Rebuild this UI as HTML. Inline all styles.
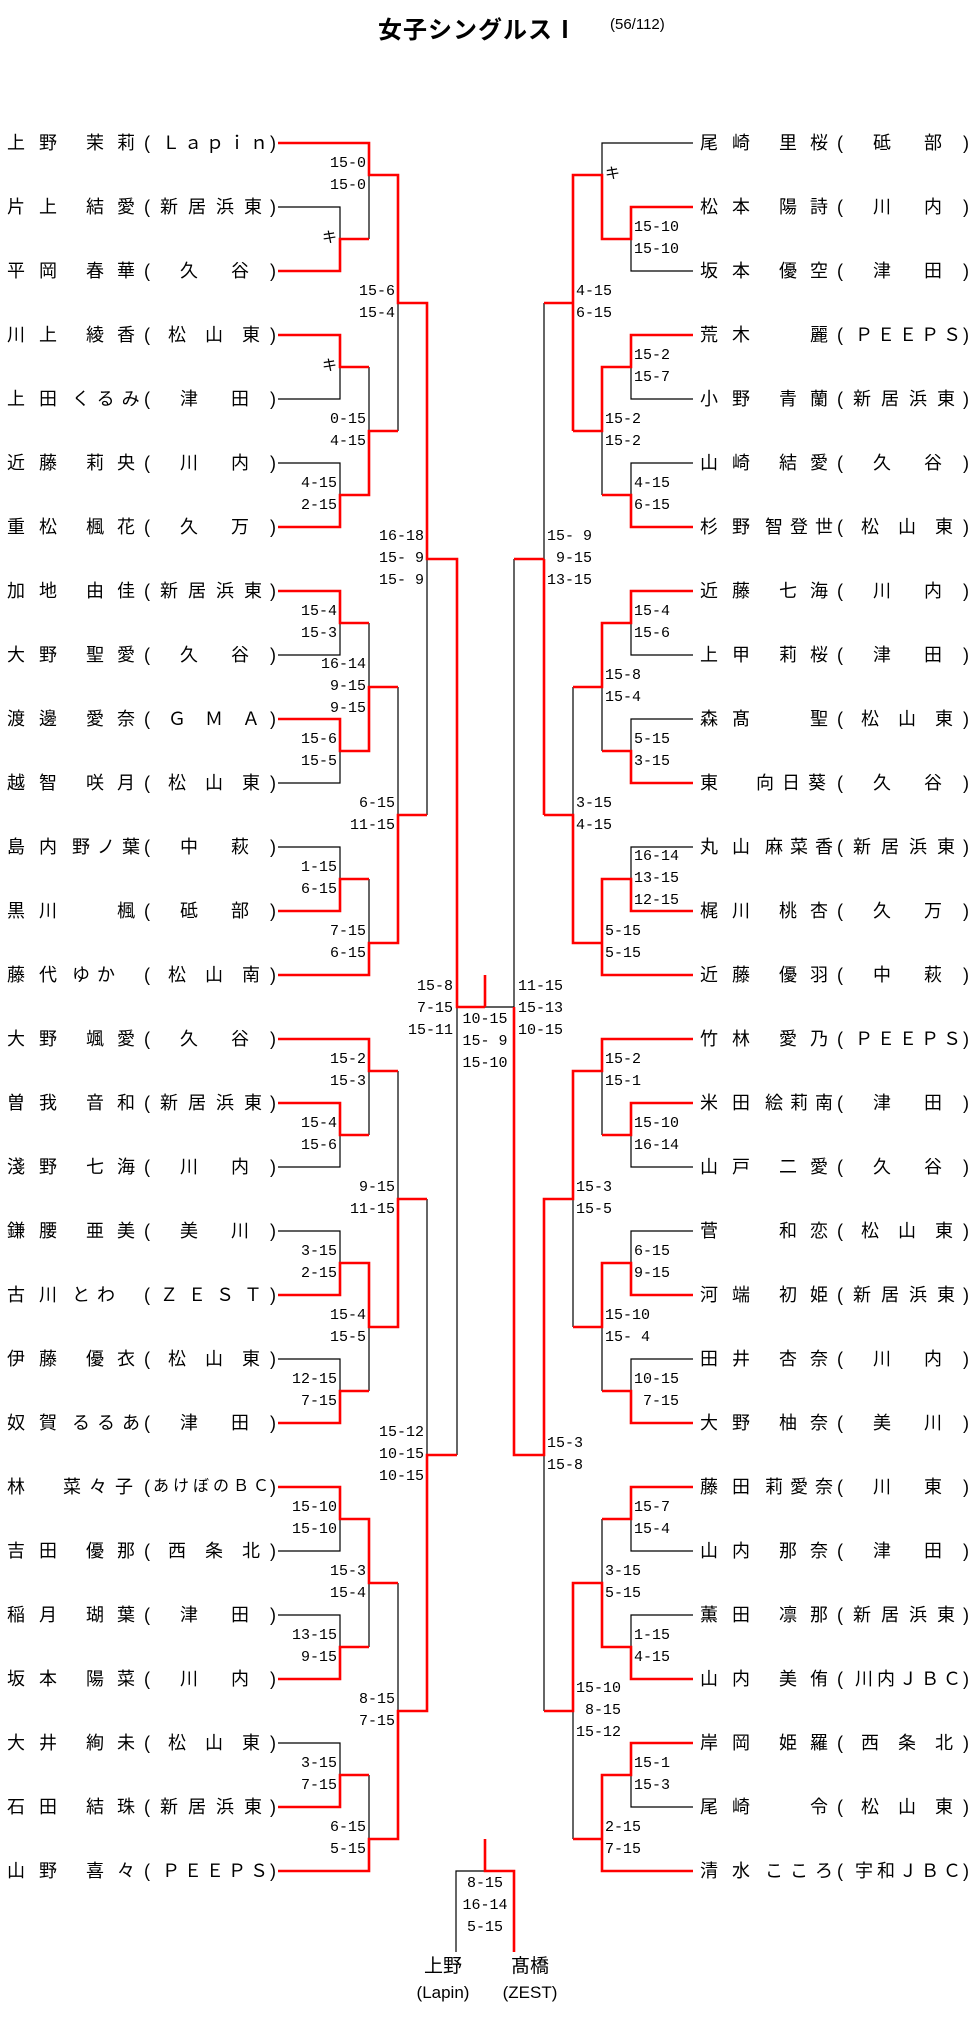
<!DOCTYPE html>
<html><head><meta charset="utf-8">
<style>
body{margin:0;background:#fff;}
#w{position:relative;width:971px;height:2024px;overflow:hidden;background:#fff;font-family:"Liberation Sans","Noto Sans CJK JP",sans-serif;color:#000;}
svg{position:absolute;left:0;top:0;}
.r{position:absolute;height:26px;line-height:26px;font-size:18px;width:280px;}
.r i{position:absolute;font-style:normal;white-space:nowrap;top:0;}
.f{left:0;letter-spacing:14px}
.g{left:79px;letter-spacing:13px}
.g3{left:65px;letter-spacing:7px}
.g1{left:110px}
.gb{left:56px;letter-spacing:8px}
.p{left:137px}
.q{left:263px}
.t2{left:173px;letter-spacing:33px}
.t3{left:161px;letter-spacing:19px}
.t4{left:153px;letter-spacing:10px}
.t5{left:155px;letter-spacing:4px}
.t6{left:146px;font-size:16px;letter-spacing:4px}
.s{position:absolute;font-family:"Liberation Mono","Noto Sans CJK JP",monospace;font-size:15px;line-height:22px;white-space:pre;}
.sl{width:80px;text-align:right;}
.sc{width:80px;text-align:center;}
</style></head><body><div id="w">
<div style="position:absolute;left:378px;top:10px;font-size:24px;font-weight:bold;letter-spacing:1px;font-family:'Noto Sans CJK JP',sans-serif;">女子シングルスⅠ</div>
<div style="position:absolute;left:610px;top:16px;font-size:15px;">(56/112)</div>

<svg width="971" height="2024" viewBox="0 0 971 2024">
<g fill="none" stroke="#000" stroke-width="1.2">
<path d="M278 207H340V239 M340 367V399H278 M278 463H340V495 M340 623V655H278 M340 751V783H278 M278 847H340V879 M340 1135V1167H278 M278 1231H340V1263 M278 1359H340V1391 M340 1519V1551H278 M278 1615H340V1647 M278 1743H340V1775
M369 175V239 M369 367V431 M369 623V687 M369 879V943 M369 1071V1135 M369 1327V1391 M369 1583V1647 M369 1775V1839
M398 303V431 M398 687V815 M398 1071V1199 M398 1583V1711 M427 559V815 M427 1199V1455 M457 1007V1455 M485 1007H514"/>
<path d="M693 143H602V175 M631 239V271H693 M631 367V399H693 M693 463H631V495 M631 623V655H693 M693 719H631V751 M693 847H631V879 M631 1135V1167H693 M693 1231H631V1263 M693 1359H631V1391 M631 1519V1551H693 M693 1615H631V1647 M631 1775V1807H693
M602 431V495 M602 687V751 M602 1071V1135 M602 1327V1391 M602 1519V1583
M573 687V815 M573 1199V1327 M573 1711V1839 M544 303V559 M544 1455V1711 M514 559V1007
M456 1952V1871H485"/>
</g>
<g fill="none" stroke="#f00" stroke-width="2.6">
<path d="M278 143H369V175H398V303H427V559H457V1007H485 M485 975V1007
M278 271H340V239H369 M278 335H340V367H369 M278 527H340V495H369V431H398 M278 591H340V623H369
M278 719H340V751H369V687H398 M278 911H340V879H369 M278 975H369V943H398V815H427
M278 1039H369V1071H398 M278 1103H340V1135H369 M278 1295H340V1263H369V1327H398V1199H427
M278 1423H340V1391H369 M278 1487H340V1519H369V1583H398 M278 1679H340V1647H369 M278 1807H340V1775H369
M278 1871H369V1839H398V1711H427V1455H457"/>
<path d="M693 1039H602V1071H573V1199H544V1455H514V1007
M693 207H631V239H602V175H573V431 M573 303H544 M544 559V815 M544 559H514
M693 335H631V367H602V431H573 M693 527H631V495H602 M693 591H631V623H602V687H573 M693 783H631V751H602
M693 911H631V879H602V975H693 M602 943H573V815H544
M693 1103H631V1135H602 M693 1295H631V1263H602V1327H573 M693 1423H631V1391H602
M693 1487H631V1519H602 M693 1679H631V1647H602V1583H573V1711H544
M693 1743H631V1775H602V1871H693 M602 1839H573
M485 1839V1871H514V1952"/>
</g>
</svg>

<!-- Left names -->
<div class="r" style="left:7px;top:130px"><i class="f">上野</i><i class="g">茉莉</i><i class="p">(</i><i class="t5">Ｌａｐｉｎ</i><i class="q">)</i></div>
<div class="r" style="left:7px;top:194px"><i class="f">片上</i><i class="g">結愛</i><i class="p">(</i><i class="t4">新居浜東</i><i class="q">)</i></div>
<div class="r" style="left:7px;top:258px"><i class="f">平岡</i><i class="g">春華</i><i class="p">(</i><i class="t2">久谷</i><i class="q">)</i></div>
<div class="r" style="left:7px;top:322px"><i class="f">川上</i><i class="g">綾香</i><i class="p">(</i><i class="t3">松山東</i><i class="q">)</i></div>
<div class="r" style="left:7px;top:386px"><i class="f">上田</i><i class="g3">くるみ</i><i class="p">(</i><i class="t2">津田</i><i class="q">)</i></div>
<div class="r" style="left:7px;top:450px"><i class="f">近藤</i><i class="g">莉央</i><i class="p">(</i><i class="t2">川内</i><i class="q">)</i></div>
<div class="r" style="left:7px;top:514px"><i class="f">重松</i><i class="g">楓花</i><i class="p">(</i><i class="t2">久万</i><i class="q">)</i></div>
<div class="r" style="left:7px;top:578px"><i class="f">加地</i><i class="g">由佳</i><i class="p">(</i><i class="t4">新居浜東</i><i class="q">)</i></div>
<div class="r" style="left:7px;top:642px"><i class="f">大野</i><i class="g">聖愛</i><i class="p">(</i><i class="t2">久谷</i><i class="q">)</i></div>
<div class="r" style="left:7px;top:706px"><i class="f">渡邊</i><i class="g">愛奈</i><i class="p">(</i><i class="t3">ＧＭＡ</i><i class="q">)</i></div>
<div class="r" style="left:7px;top:770px"><i class="f">越智</i><i class="g">咲月</i><i class="p">(</i><i class="t3">松山東</i><i class="q">)</i></div>
<div class="r" style="left:7px;top:834px"><i class="f">島内</i><i class="g3">野ノ葉</i><i class="p">(</i><i class="t2">中萩</i><i class="q">)</i></div>
<div class="r" style="left:7px;top:898px"><i class="f">黒川</i><i class="g1">楓</i><i class="p">(</i><i class="t2">砥部</i><i class="q">)</i></div>
<div class="r" style="left:7px;top:962px"><i class="f">藤代</i><i class="g3">ゆか</i><i class="p">(</i><i class="t3">松山南</i><i class="q">)</i></div>
<div class="r" style="left:7px;top:1026px"><i class="f">大野</i><i class="g">颯愛</i><i class="p">(</i><i class="t2">久谷</i><i class="q">)</i></div>
<div class="r" style="left:7px;top:1090px"><i class="f">曽我</i><i class="g">音和</i><i class="p">(</i><i class="t4">新居浜東</i><i class="q">)</i></div>
<div class="r" style="left:7px;top:1154px"><i class="f">淺野</i><i class="g">七海</i><i class="p">(</i><i class="t2">川内</i><i class="q">)</i></div>
<div class="r" style="left:7px;top:1218px"><i class="f">鎌腰</i><i class="g">亜美</i><i class="p">(</i><i class="t2">美川</i><i class="q">)</i></div>
<div class="r" style="left:7px;top:1282px"><i class="f">古川</i><i class="g3">とわ</i><i class="p">(</i><i class="t4">ＺＥＳＴ</i><i class="q">)</i></div>
<div class="r" style="left:7px;top:1346px"><i class="f">伊藤</i><i class="g">優衣</i><i class="p">(</i><i class="t3">松山東</i><i class="q">)</i></div>
<div class="r" style="left:7px;top:1410px"><i class="f">奴賀</i><i class="g3">るるあ</i><i class="p">(</i><i class="t2">津田</i><i class="q">)</i></div>
<div class="r" style="left:7px;top:1474px"><i class="f">林</i><i class="gb">菜々子</i><i class="p">(</i><i class="t6">あけぼのＢＣ</i><i class="q">)</i></div>
<div class="r" style="left:7px;top:1538px"><i class="f">吉田</i><i class="g">優那</i><i class="p">(</i><i class="t3">西条北</i><i class="q">)</i></div>
<div class="r" style="left:7px;top:1602px"><i class="f">稲月</i><i class="g">瑚葉</i><i class="p">(</i><i class="t2">津田</i><i class="q">)</i></div>
<div class="r" style="left:7px;top:1666px"><i class="f">坂本</i><i class="g">陽菜</i><i class="p">(</i><i class="t2">川内</i><i class="q">)</i></div>
<div class="r" style="left:7px;top:1730px"><i class="f">大井</i><i class="g">絢未</i><i class="p">(</i><i class="t3">松山東</i><i class="q">)</i></div>
<div class="r" style="left:7px;top:1794px"><i class="f">石田</i><i class="g">結珠</i><i class="p">(</i><i class="t4">新居浜東</i><i class="q">)</i></div>
<div class="r" style="left:7px;top:1858px"><i class="f">山野</i><i class="g">喜々</i><i class="p">(</i><i class="t5">ＰＥＥＰＳ</i><i class="q">)</i></div>

<!-- Right names -->
<div class="r" style="left:700px;top:130px"><i class="f">尾崎</i><i class="g">里桜</i><i class="p">(</i><i class="t2">砥部</i><i class="q">)</i></div>
<div class="r" style="left:700px;top:194px"><i class="f">松本</i><i class="g">陽詩</i><i class="p">(</i><i class="t2">川内</i><i class="q">)</i></div>
<div class="r" style="left:700px;top:258px"><i class="f">坂本</i><i class="g">優空</i><i class="p">(</i><i class="t2">津田</i><i class="q">)</i></div>
<div class="r" style="left:700px;top:322px"><i class="f">荒木</i><i class="g1">麗</i><i class="p">(</i><i class="t5">ＰＥＥＰＳ</i><i class="q">)</i></div>
<div class="r" style="left:700px;top:386px"><i class="f">小野</i><i class="g">青蘭</i><i class="p">(</i><i class="t4">新居浜東</i><i class="q">)</i></div>
<div class="r" style="left:700px;top:450px"><i class="f">山崎</i><i class="g">結愛</i><i class="p">(</i><i class="t2">久谷</i><i class="q">)</i></div>
<div class="r" style="left:700px;top:514px"><i class="f">杉野</i><i class="g3">智登世</i><i class="p">(</i><i class="t3">松山東</i><i class="q">)</i></div>
<div class="r" style="left:700px;top:578px"><i class="f">近藤</i><i class="g">七海</i><i class="p">(</i><i class="t2">川内</i><i class="q">)</i></div>
<div class="r" style="left:700px;top:642px"><i class="f">上甲</i><i class="g">莉桜</i><i class="p">(</i><i class="t2">津田</i><i class="q">)</i></div>
<div class="r" style="left:700px;top:706px"><i class="f">森髙</i><i class="g1">聖</i><i class="p">(</i><i class="t3">松山東</i><i class="q">)</i></div>
<div class="r" style="left:700px;top:770px"><i class="f">東</i><i class="gb">向日葵</i><i class="p">(</i><i class="t2">久谷</i><i class="q">)</i></div>
<div class="r" style="left:700px;top:834px"><i class="f">丸山</i><i class="g3">麻菜香</i><i class="p">(</i><i class="t4">新居浜東</i><i class="q">)</i></div>
<div class="r" style="left:700px;top:898px"><i class="f">梶川</i><i class="g">桃杏</i><i class="p">(</i><i class="t2">久万</i><i class="q">)</i></div>
<div class="r" style="left:700px;top:962px"><i class="f">近藤</i><i class="g">優羽</i><i class="p">(</i><i class="t2">中萩</i><i class="q">)</i></div>
<div class="r" style="left:700px;top:1026px"><i class="f">竹林</i><i class="g">愛乃</i><i class="p">(</i><i class="t5">ＰＥＥＰＳ</i><i class="q">)</i></div>
<div class="r" style="left:700px;top:1090px"><i class="f">米田</i><i class="g3">絵莉南</i><i class="p">(</i><i class="t2">津田</i><i class="q">)</i></div>
<div class="r" style="left:700px;top:1154px"><i class="f">山戸</i><i class="g">二愛</i><i class="p">(</i><i class="t2">久谷</i><i class="q">)</i></div>
<div class="r" style="left:700px;top:1218px"><i class="f">菅</i><i class="g">和恋</i><i class="p">(</i><i class="t3">松山東</i><i class="q">)</i></div>
<div class="r" style="left:700px;top:1282px"><i class="f">河端</i><i class="g">初姫</i><i class="p">(</i><i class="t4">新居浜東</i><i class="q">)</i></div>
<div class="r" style="left:700px;top:1346px"><i class="f">田井</i><i class="g">杏奈</i><i class="p">(</i><i class="t2">川内</i><i class="q">)</i></div>
<div class="r" style="left:700px;top:1410px"><i class="f">大野</i><i class="g">柚奈</i><i class="p">(</i><i class="t2">美川</i><i class="q">)</i></div>
<div class="r" style="left:700px;top:1474px"><i class="f">藤田</i><i class="g3">莉愛奈</i><i class="p">(</i><i class="t2">川東</i><i class="q">)</i></div>
<div class="r" style="left:700px;top:1538px"><i class="f">山内</i><i class="g">那奈</i><i class="p">(</i><i class="t2">津田</i><i class="q">)</i></div>
<div class="r" style="left:700px;top:1602px"><i class="f">薫田</i><i class="g">凛那</i><i class="p">(</i><i class="t4">新居浜東</i><i class="q">)</i></div>
<div class="r" style="left:700px;top:1666px"><i class="f">山内</i><i class="g">美侑</i><i class="p">(</i><i class="t5">川内ＪＢＣ</i><i class="q">)</i></div>
<div class="r" style="left:700px;top:1730px"><i class="f">岸岡</i><i class="g">姫羅</i><i class="p">(</i><i class="t3">西条北</i><i class="q">)</i></div>
<div class="r" style="left:700px;top:1794px"><i class="f">尾崎</i><i class="g1">令</i><i class="p">(</i><i class="t3">松山東</i><i class="q">)</i></div>
<div class="r" style="left:700px;top:1858px"><i class="f">清水</i><i class="g3">こころ</i><i class="p">(</i><i class="t5">宇和ＪＢＣ</i><i class="q">)</i></div>

<!-- Left scores R1 (end 337) -->
<div class="s sl" style="left:257px;top:228px">キ</div>
<div class="s sl" style="left:257px;top:356px">キ</div>
<div class="s sl" style="left:257px;top:473px">4-15
2-15</div>
<div class="s sl" style="left:257px;top:601px">15-4
15-3</div>
<div class="s sl" style="left:257px;top:729px">15-6
15-5</div>
<div class="s sl" style="left:257px;top:857px">1-15
6-15</div>
<div class="s sl" style="left:257px;top:1113px">15-4
15-6</div>
<div class="s sl" style="left:257px;top:1241px">3-15
2-15</div>
<div class="s sl" style="left:257px;top:1369px">12-15
7-15</div>
<div class="s sl" style="left:257px;top:1497px">15-10
15-10</div>
<div class="s sl" style="left:257px;top:1625px">13-15
9-15</div>
<div class="s sl" style="left:257px;top:1753px">3-15
7-15</div>
<!-- Left R2 (end 366) -->
<div class="s sl" style="left:286px;top:153px">15-0
15-0</div>
<div class="s sl" style="left:286px;top:409px">0-15
4-15</div>
<div class="s sl" style="left:286px;top:654px">16-14
9-15
9-15</div>
<div class="s sl" style="left:286px;top:921px">7-15
6-15</div>
<div class="s sl" style="left:286px;top:1049px">15-2
15-3</div>
<div class="s sl" style="left:286px;top:1305px">15-4
15-5</div>
<div class="s sl" style="left:286px;top:1561px">15-3
15-4</div>
<div class="s sl" style="left:286px;top:1817px">6-15
5-15</div>
<!-- Left R3 (end 395) -->
<div class="s sl" style="left:315px;top:281px">15-6
15-4</div>
<div class="s sl" style="left:315px;top:793px">6-15
11-15</div>
<div class="s sl" style="left:315px;top:1177px">9-15
11-15</div>
<div class="s sl" style="left:315px;top:1689px">8-15
7-15</div>
<!-- Left R4 / R5 -->
<div class="s sl" style="left:344px;top:526px">16-18
15- 9
15- 9</div>
<div class="s sl" style="left:344px;top:1422px">15-12
10-15
10-15</div>
<div class="s sl" style="left:373px;top:976px">15-8
7-15
15-11</div>

<!-- Right R1 (start 634) -->
<div class="s" style="left:634px;top:217px">15-10
15-10</div>
<div class="s" style="left:634px;top:345px">15-2
15-7</div>
<div class="s" style="left:634px;top:473px">4-15
6-15</div>
<div class="s" style="left:634px;top:601px">15-4
15-6</div>
<div class="s" style="left:634px;top:729px">5-15
3-15</div>
<div class="s" style="left:634px;top:846px">16-14
13-15
12-15</div>
<div class="s" style="left:634px;top:1113px">15-10
16-14</div>
<div class="s" style="left:634px;top:1241px">6-15
9-15</div>
<div class="s" style="left:634px;top:1369px">10-15
 7-15</div>
<div class="s" style="left:634px;top:1497px">15-7
15-4</div>
<div class="s" style="left:634px;top:1625px">1-15
4-15</div>
<div class="s" style="left:634px;top:1753px">15-1
15-3</div>
<!-- Right R2 (start 605) -->
<div class="s" style="left:605px;top:164px">キ</div>
<div class="s" style="left:605px;top:409px">15-2
15-2</div>
<div class="s" style="left:605px;top:665px">15-8
15-4</div>
<div class="s" style="left:605px;top:921px">5-15
5-15</div>
<div class="s" style="left:605px;top:1049px">15-2
15-1</div>
<div class="s" style="left:605px;top:1305px">15-10
15- 4</div>
<div class="s" style="left:605px;top:1561px">3-15
5-15</div>
<div class="s" style="left:605px;top:1817px">2-15
7-15</div>
<!-- Right R3 (start 576) -->
<div class="s" style="left:576px;top:281px">4-15
6-15</div>
<div class="s" style="left:576px;top:793px">3-15
4-15</div>
<div class="s" style="left:576px;top:1177px">15-3
15-5</div>
<div class="s" style="left:576px;top:1678px">15-10
 8-15
15-12</div>
<!-- Right R4 / R5 -->
<div class="s" style="left:547px;top:526px">15- 9
 9-15
13-15</div>
<div class="s" style="left:547px;top:1433px">15-3
15-8</div>
<div class="s" style="left:518px;top:976px">11-15
15-13
10-15</div>

<!-- Center -->
<div class="s sc" style="left:445px;top:1009px">10-15
15- 9
15-10</div>
<div class="s sc" style="left:445px;top:1873px">8-15
16-14
5-15</div>
<div style="position:absolute;left:403px;top:1954px;width:80px;text-align:center;font-size:19px;line-height:26px;">上野</div>
<div style="position:absolute;left:398px;top:1980px;width:90px;text-align:center;font-size:17px;line-height:26px;">(Lapin)</div>
<div style="position:absolute;left:490px;top:1954px;width:80px;text-align:center;font-size:19px;line-height:26px;">髙橋</div>
<div style="position:absolute;left:485px;top:1980px;width:90px;text-align:center;font-size:17px;line-height:26px;">(ZEST)</div>
</div></body></html>
